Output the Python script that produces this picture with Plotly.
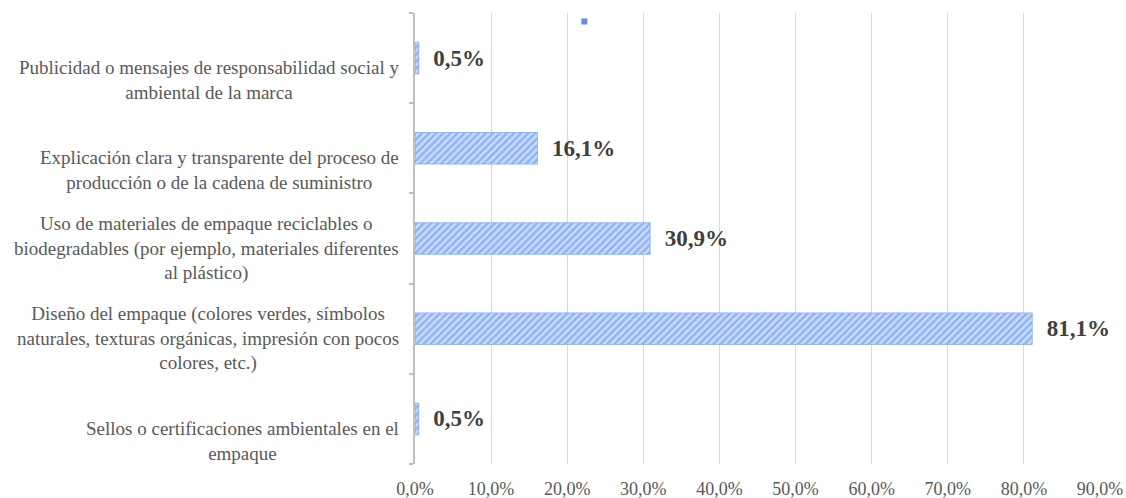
import plotly.graph_objects as go

categories = [
    "Publicidad o mensajes de responsabilidad social y<br>ambiental de la marca",
    "Explicación clara y transparente del proceso de<br>producción o de la cadena de suministro",
    "Uso de materiales de empaque reciclables o<br>biodegradables (por ejemplo, materiales diferentes<br>al plástico)",
    "Diseño del empaque (colores verdes, símbolos<br>naturales, texturas orgánicas, impresión con pocos<br>colores, etc.)",
    "Sellos o certificaciones ambientales en el<br>empaque",
]
values = [0.5, 16.1, 30.9, 81.1, 0.5]
x_ticks = [0, 10, 20, 30, 40, 50, 60, 70, 80, 90]
x_tick_labels = ["0,0%", "10,0%", "20,0%", "30,0%", "40,0%", "50,0%", "60,0%", "70,0%", "80,0%", "90,0%"]

ids = list(range(len(categories)))
boundaries = [i - 0.5 for i in range(len(categories) + 1)]

fig = go.Figure()
fig.add_trace(go.Bar(
    y=ids,
    x=values,
    orientation="h",
    name=" ",
    showlegend=False,
    marker=dict(
        color="#C8DBFB",
        line=dict(color="#85ACF4", width=0.8),
        pattern=dict(shape="/", fgcolor="#5689EE", bgcolor="#C8DBFB", size=5, solidity=0.5),
    ),
    texttemplate="\u00a0\u00a0%{x:.1f}%",
    textposition="outside",
    textfont=dict(family="Liberation Serif", size=23, color="#404040", weight="bold"),
    cliponaxis=False,
    width=0.35,
))
# legend key (no text), as in the reference
fig.add_trace(go.Scatter(
    x=[None], y=[None], mode="markers", name=" ", showlegend=True,
    marker=dict(symbol="square", size=6, color="#5B8EF0"),
))

for i, c in enumerate(categories):
    fig.add_annotation(
        x=0, xref="paper", xanchor="right", xshift=-14,
        y=i + 0.5, yref="y", yanchor="bottom", yshift=-2,
        text=c, showarrow=False, align="center",
        font=dict(family="Liberation Serif", size=19, color="#595959"),
    )

fig.update_layout(
    width=1126, height=498,
    margin=dict(l=415, r=26, t=13, b=34, autoexpand=False),
    paper_bgcolor="white", plot_bgcolor="white",
    separators=",.",
    bargap=0.65,
    barmode="overlay",
    legend=dict(x=0.218, y=0.981, xanchor="left", yanchor="middle", orientation="h",
                font=dict(size=6), bgcolor="rgba(0,0,0,0)"),
    xaxis=dict(
        range=[0, 90], tickvals=x_ticks, ticktext=x_tick_labels,
        showgrid=True, gridcolor="#D9D9D9", gridwidth=1,
        zeroline=False, showline=False, automargin=False,
        tickfont=dict(family="Liberation Serif", size=18, color="#595959"),
        ticks="", ticklabelstandoff=12,
    ),
    yaxis=dict(
        tickvals=ids, ticktext=[""] * len(ids), range=[4.5, -0.5],
        showgrid=False, zeroline=False, automargin=False,
        showline=True, linecolor="#BFBFBF", linewidth=1.5,
        ticks="",
        minor=dict(tickvals=boundaries, ticks="outside", ticklen=4,
                   tickcolor="#BFBFBF", tickwidth=1.5, showgrid=False),
    ),
)

fig.write_html("out.html")
